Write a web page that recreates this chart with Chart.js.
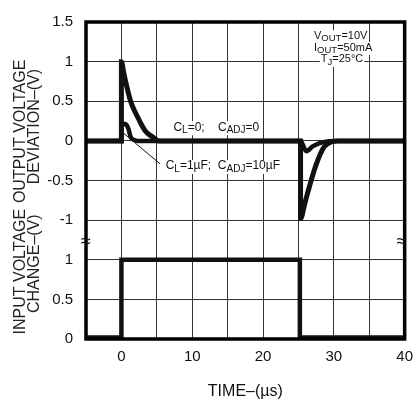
<!DOCTYPE html>
<html>
<head>
<meta charset="utf-8">
<script src="https://cdn.jsdelivr.net/npm/chart.js@4.4.0/dist/chart.umd.min.js"></script>
<style>
  html, body { margin: 0; padding: 0; overflow: hidden; background: #fff; }
  #wrap { width: 422px; height: 403px; }
</style>
</head>
<body>
<div id="wrap"><canvas id="grafico"></canvas></div>
<script>
// Eixos
const xTicks = [0, 10, 20, 30, 40];
const outTicks = [-1, -0.5, 0, 0.5, 1, 1.5];
const inTicks = [0, 0.5, 1];

// C_L = 0; C_ADJ = 0
const t1 = [-5, 0, 0, 0.35, 0.7, 1.3, 1.8, 2.3, 2.8, 3.3, 3.9, 4.5, 5.3, 25.3, 25.3, 25.9, 26.6, 27.5, 28.6, 29.7, 30.5, 40];
const v1 = [0, 0, 1.0, 0.85, 0.71, 0.5, 0.39, 0.30, 0.21, 0.135, 0.08, 0.045, 0, 0, -0.98, -0.79, -0.56, -0.30, -0.08, -0.01, 0, 0];

// C_L = 1uF; C_ADJ = 10uF
const t2 = [-5, 0, 0, 0.3, 0.6, 1.0, 1.3, 1.8, 2.4, 25.3, 26.1, 27.0, 27.9, 29.3, 30.6, 40];
const v2 = [0, 0, 0.19, 0.215, 0.21, 0.15, 0.05, 0.01, 0, 0, -0.13, -0.07, -0.03, -0.005, 0, 0];

// Degrau de entrada
const tIn = [-5, 0, 0, 25.2, 25.2, 40];
const vIn = [0.02, 0.02, 1, 1, 0.02, 0.02];

// Seta da legenda
const tSeta = [0.14, 5.46];
const vSeta = [0.11, -0.29];

const pts = (ts, vs) => ts.map((t, i) => ({ x: t, y: vs[i] }));
const FONTE = "'Liberation Sans', Arial, sans-serif";
Chart.defaults.font.family = FONTE;
Chart.defaults.font.size = 15;
Chart.defaults.color = '#111';

function textoRico(ctx, linhas, size, subSize) {
  const main = size + 'px ' + FONTE, sub = subSize + 'px ' + FONTE;
  const medidas = linhas.map(l => {
    let w = 0;
    l.parts.forEach(p => { ctx.font = p[1] ? sub : main; w += ctx.measureText(p[0]).width; });
    return w;
  });
  ctx.fillStyle = '#fff';
  linhas.forEach((l, i) => ctx.fillRect(l.x - 1, l.y - size * 0.78, medidas[i] + 2, size + 2));
  ctx.fillStyle = '#111';
  ctx.textBaseline = 'alphabetic';
  ctx.textAlign = 'left';
  linhas.forEach(l => {
    let cx = l.x;
    l.parts.forEach(p => {
      ctx.font = p[1] ? sub : main;
      ctx.fillText(p[0], cx, p[1] ? l.y + size * 0.22 : l.y);
      cx += ctx.measureText(p[0]).width;
    });
  });
}

const notas = {
  id: 'notas',
  afterDatasetsDraw(chart) {
    const ctx = chart.ctx;
    const sx = chart.scales.x, sy = chart.scales.y, sy2 = chart.scales.y2;
    const a = chart.chartArea;
    const px = v => sx.getPixelForValue(v);
    const py = v => sy.getPixelForValue(v);
    ctx.save();

    textoRico(ctx, [
      { x: px(7.35), y: py(0.13), parts: [['C', 0], ['L', 1], ['=0;    C', 0], ['ADJ', 1], ['=0', 0]] },
      { x: px(6.25), y: py(-0.36), parts: [['C', 0], ['L', 1], ['=1µF;  C', 0], ['ADJ', 1], ['=10µF', 0]] }
    ], 12, 10);

    textoRico(ctx, [
      { x: px(27.2), y: py(1.287), parts: [['V', 0], ['OUT', 1], ['=10V', 0]] },
      { x: px(27.2), y: py(1.14), parts: [['I', 0], ['OUT', 1], ['=50mA', 0]] },
      { x: px(28.16), y: py(0.99), parts: [['T', 0], ['J', 1], ['=25°C', 0]] }
    ], 11, 9.5);

    // moldura
    ctx.strokeStyle = '#000';
    ctx.lineWidth = 3.5;
    ctx.strokeRect(a.left, a.top, a.right - a.left, a.bottom - a.top);

    // quebra do eixo
    ctx.fillStyle = '#111';
    ctx.font = '18px ' + FONTE;
    ctx.textAlign = 'center';
    ctx.textBaseline = 'middle';
    ctx.fillText('≈', a.left, sy2.top + 2);
    ctx.fillText('≈', a.right - 3, sy2.top + 2);

    // títulos verticais
    ctx.fillStyle = '#222';
    ctx.font = '16px ' + FONTE;
    const titulo = (txt, x, y) => {
      ctx.save();
      ctx.translate(x, y);
      ctx.rotate(-Math.PI / 2);
      ctx.fillText(txt, 0, 0);
      ctx.restore();
    };
    titulo('OUTPUT VOLTAGE', 21, py(0.12));
    titulo('DEVIATION–(V)', 35, py(0.18));
    titulo('INPUT VOLTAGE', 21, sy2.getPixelForValue(0.85));
    titulo('CHANGE–(V)', 35, sy2.getPixelForValue(0.95));
    ctx.restore();
  }
};

const linha = (data, eixo, w) => ({
  data, yAxisID: eixo, borderColor: '#111', borderWidth: w,
  pointRadius: 0, fill: false, cubicInterpolationMode: 'monotone'
});

new Chart(document.getElementById('grafico'), {
  type: 'line',
  data: {
    datasets: [
      linha(pts(t1, v1), 'y', 5),
      linha(pts(t2, v2), 'y', 4.5),
      linha(pts(tIn, vIn), 'y2', 4.5),
      { ...linha(pts(tSeta, vSeta), 'y', 1), cubicInterpolationMode: 'default', tension: 0 }
    ]
  },
  options: {
    responsive: true,
    maintainAspectRatio: false,
    animation: false,
    devicePixelRatio: 1,
    layout: { padding: { top: 13, right: 9, left: 0, bottom: 0 } },
    plugins: { legend: { display: false }, tooltip: { enabled: false } },
    scales: {
      x: {
        type: 'linear', min: -5, max: 40,
        ticks: {
          stepSize: 5, padding: 9, maxRotation: 0,
          callback: v => xTicks.includes(v) ? String(v) : ''
        },
        grid: { color: '#333', lineWidth: 1, drawTicks: false },
        border: { display: false },
        title: { display: true, text: 'TIME–(µs)', font: { size: 16 }, padding: { top: 0, bottom: 1.4 } },
        afterFit: ax => { ax.height = 64; }
      },
      y: {
        type: 'linear', position: 'left', stack: 'saida', stackWeight: 5.5, weight: 2,
        min: -1.25, max: 1.5,
        afterBuildTicks: ax => { ax.ticks = outTicks.map(v => ({ value: v })); },
        ticks: { padding: 13, callback: v => String(v) },
        grid: { color: '#333', lineWidth: 1, drawTicks: false },
        border: { display: false },
        afterFit: ax => { ax.width = 86; }
      },
      y2: {
        type: 'linear', position: 'left', stack: 'saida', stackWeight: 2.5, weight: 1,
        min: 0, max: 1.25,
        afterBuildTicks: ax => { ax.ticks = inTicks.map(v => ({ value: v })); },
        ticks: { padding: 13, callback: v => String(v) },
        grid: { color: '#333', lineWidth: 1, drawTicks: false },
        border: { display: false },
        afterFit: ax => { ax.width = 86; }
      }
    }
  },
  plugins: [notas]
});
</script>
</body>
</html>
